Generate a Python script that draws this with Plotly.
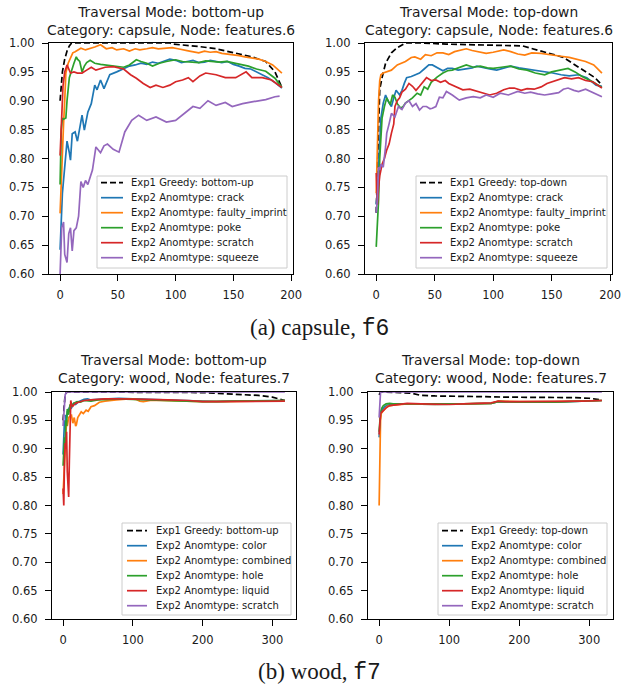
import plotly.graph_objects as go

# ---------------- data ----------------
Y_TICKS = [0.60, 0.65, 0.70, 0.75, 0.80, 0.85, 0.90, 0.95, 1.00]
X_TICKS_CAPSULE = [0, 50, 100, 150, 200]
X_TICKS_WOOD = [0, 100, 200, 300]

CAPSULE_TYPES = ["crack", "faulty_imprint", "poke", "scratch", "squeeze"]
WOOD_TYPES = ["color", "combined", "hole", "liquid", "scratch"]

# capsule, bottom-up
cap_bu_greedy_x = [0, 1, 2, 4, 6, 8, 10, 20, 40, 60, 80, 95, 98, 110, 120, 135, 150, 166, 178, 186, 192]
cap_bu_greedy_y = [0.90, 0.93, 0.95, 0.972, 0.986, 0.995, 1.0, 1.0, 1.0, 1.0, 1.0, 1.0, 0.998, 0.996, 0.994, 0.99, 0.983, 0.976, 0.968, 0.95, 0.923]
cap_bu_crack_x = [0, 1, 2, 4, 6, 8, 9, 10.5, 13, 15, 18, 19, 21, 24, 27, 30, 32, 35, 38, 43, 49, 55, 60, 65, 70, 75, 80, 85, 90, 95, 100, 105, 110, 115, 120, 125, 130, 135, 140, 145, 150, 155, 160, 165, 170, 175, 180, 185, 192]
cap_bu_crack_y = [0.642, 0.703, 0.74, 0.785, 0.83, 0.81, 0.797, 0.843, 0.846, 0.83, 0.863, 0.875, 0.849, 0.88, 0.895, 0.927, 0.919, 0.936, 0.921, 0.945, 0.95, 0.955, 0.96, 0.962, 0.965, 0.963, 0.967, 0.965, 0.968, 0.972, 0.97, 0.966, 0.968, 0.97, 0.966, 0.967, 0.97, 0.968, 0.966, 0.968, 0.963, 0.96, 0.956, 0.955, 0.95, 0.945, 0.94, 0.933, 0.922]
cap_bu_faulty_x = [0, 1, 2, 3, 4, 5, 7, 9, 11, 13, 15, 18, 22, 26, 30, 35, 40, 45, 49, 55, 60, 65, 69, 75, 80, 85, 92, 97, 102, 106, 112, 120, 125, 130, 135, 140, 145, 149, 155, 160, 166, 172, 178, 184, 192]
cap_bu_faulty_y = [0.705, 0.77, 0.83, 0.86, 0.9, 0.948, 0.965, 0.975, 0.983, 0.985, 0.988, 0.991, 0.988, 0.99, 0.993, 0.997, 0.99, 0.992, 0.988, 0.99, 0.986, 0.99, 0.988, 0.99, 0.992, 0.99, 0.991, 0.992, 0.99, 0.988, 0.986, 0.983, 0.986, 0.984, 0.985, 0.982, 0.981, 0.98, 0.978, 0.976, 0.974, 0.972, 0.968, 0.962, 0.948]
cap_bu_poke_x = [0, 1, 2, 3, 5, 6, 8, 10, 12, 14, 15, 17, 19, 21, 23, 26, 30, 35, 40, 45, 50, 55, 60, 66, 70, 75, 80, 86, 92, 100, 106, 112, 120, 126, 132, 138, 144, 150, 156, 163, 170, 178, 186, 192]
cap_bu_poke_y = [0.755, 0.85, 0.87, 0.868, 0.87, 0.9, 0.94, 0.955, 0.965, 0.976, 0.972, 0.968, 0.95, 0.96, 0.966, 0.97, 0.965, 0.963, 0.962, 0.96, 0.96, 0.958, 0.962, 0.971, 0.968, 0.965, 0.96, 0.965, 0.968, 0.971, 0.968, 0.967, 0.966, 0.969, 0.968, 0.967, 0.968, 0.965, 0.963, 0.96, 0.955, 0.951, 0.939, 0.923]
cap_bu_scratch_x = [0, 1, 2.5, 4, 6, 9, 12, 15, 19, 23, 27, 31, 35, 39, 46, 51, 55, 61, 66, 72, 78, 83, 89, 95, 100, 106, 111, 115, 121, 126, 135, 143, 152, 161, 166, 175, 183, 192]
cap_bu_scratch_y = [0.805, 0.87, 0.925, 0.95, 0.962, 0.948, 0.95, 0.948, 0.948, 0.953, 0.958, 0.953, 0.956, 0.958, 0.959, 0.957, 0.955, 0.945, 0.939, 0.93, 0.923, 0.927, 0.923, 0.927, 0.933, 0.936, 0.94, 0.933, 0.943, 0.948, 0.945, 0.94, 0.94, 0.95, 0.94, 0.94, 0.936, 0.923]
cap_bu_squeeze_x = [0, 1.4, 3, 4, 6, 7.5, 9, 10.5, 12, 14, 16, 18, 20, 22, 24, 26, 28, 31, 35, 38, 41, 46, 51, 56, 62, 68, 75, 83, 92, 100, 109, 115, 121, 128, 135, 143, 149, 158, 166, 178, 186, 190]
cap_bu_squeeze_y = [0.60, 0.68, 0.69, 0.634, 0.62, 0.67, 0.68, 0.64, 0.675, 0.68, 0.70, 0.76, 0.75, 0.762, 0.755, 0.77, 0.78, 0.82, 0.81, 0.822, 0.825, 0.816, 0.811, 0.846, 0.866, 0.875, 0.866, 0.872, 0.863, 0.866, 0.88, 0.89, 0.887, 0.90, 0.892, 0.897, 0.89, 0.895, 0.898, 0.902, 0.907, 0.908]

# capsule, top-down
cap_td_greedy_x = [0, 1, 2, 3, 5, 8, 13, 18, 25, 40, 60, 80, 100, 115, 125, 132, 140, 150, 160, 170, 180, 187, 193]
cap_td_greedy_y = [0.706, 0.775, 0.86, 0.92, 0.94, 0.965, 0.983, 0.992, 1.0, 1.0, 0.998, 0.997, 0.996, 0.995, 0.995, 0.991, 0.987, 0.981, 0.975, 0.962, 0.95, 0.94, 0.927]
cap_td_crack_x = [0, 1, 2, 4, 6, 8, 10, 13, 15, 17, 20, 22, 24, 26, 30, 34, 37, 41, 45, 48, 52, 57, 61, 65, 70, 77, 82, 86, 92, 97, 103, 109, 115, 122, 129, 136, 144, 151, 158, 165, 173, 180, 188, 193]
cap_td_crack_y = [0.72, 0.74, 0.785, 0.87, 0.896, 0.91, 0.9, 0.89, 0.905, 0.918, 0.91, 0.918, 0.93, 0.94, 0.942, 0.945, 0.948, 0.955, 0.962, 0.962, 0.958, 0.952, 0.956, 0.956, 0.953, 0.955, 0.957, 0.96, 0.957, 0.955, 0.953, 0.957, 0.96, 0.957, 0.955, 0.952, 0.951, 0.948, 0.945, 0.943, 0.945, 0.94, 0.927, 0.925]
cap_td_faulty_x = [0, 1, 2, 3, 4, 6, 9, 13, 18, 25, 30, 33, 38, 42, 47, 52, 57, 62, 67, 72, 77, 82, 88, 94, 100, 105, 109, 115, 121, 127, 133, 141, 150, 158, 165, 172, 179, 186, 193]
cap_td_faulty_y = [0.74, 0.85, 0.9, 0.935, 0.945, 0.948, 0.95, 0.953, 0.962, 0.968, 0.975, 0.976, 0.972, 0.98, 0.978, 0.983, 0.983, 0.98, 0.985, 0.987, 0.99, 0.987, 0.985, 0.982, 0.984, 0.986, 0.988, 0.985, 0.981, 0.979, 0.983, 0.982, 0.98, 0.977, 0.975, 0.972, 0.968, 0.962, 0.948]
cap_td_poke_x = [0, 1, 2, 3, 4, 5, 7, 9, 12, 14, 16, 18, 21, 23, 25, 28, 31, 35, 38, 41, 44, 47, 52, 57, 61, 65, 70, 77, 83, 89, 95, 100, 107, 115, 122, 129, 136, 144, 150, 156, 164, 170, 176, 185, 193]
cap_td_poke_y = [0.647, 0.69, 0.728, 0.8, 0.844, 0.87, 0.89, 0.905, 0.893, 0.91, 0.906, 0.895, 0.887, 0.89, 0.896, 0.9, 0.905, 0.913, 0.91, 0.924, 0.92, 0.932, 0.941, 0.948, 0.952, 0.953, 0.957, 0.962, 0.958, 0.96, 0.957, 0.956, 0.958, 0.96, 0.955, 0.953, 0.948, 0.945, 0.95, 0.953, 0.956, 0.95, 0.942, 0.933, 0.923]
cap_td_scratch_x = [0, 1, 2, 3, 5, 7, 9, 11, 13, 15, 16, 18, 20, 22, 25, 28, 31, 34, 37, 39, 43, 47, 51, 55, 59, 62, 68, 74, 80, 86, 92, 97, 103, 109, 114, 118, 124, 129, 135, 141, 146, 150, 156, 161, 167, 173, 179, 185, 193]
cap_td_scratch_y = [0.775, 0.72, 0.75, 0.77, 0.79, 0.8, 0.815, 0.825, 0.844, 0.86, 0.89, 0.9, 0.905, 0.915, 0.92, 0.93, 0.925, 0.918, 0.925, 0.93, 0.94, 0.935, 0.936, 0.932, 0.935, 0.93, 0.925, 0.919, 0.92, 0.916, 0.913, 0.91, 0.913, 0.919, 0.922, 0.922, 0.918, 0.921, 0.92, 0.924, 0.93, 0.933, 0.937, 0.94, 0.938, 0.94, 0.935, 0.933, 0.922]
cap_td_squeeze_x = [0, 1, 2, 3, 4, 6, 8, 9, 11, 13, 16, 19, 22, 25, 28, 31, 34, 37, 40, 43, 46, 48, 51, 54, 57, 60, 65, 71, 77, 83, 89, 94, 100, 106, 113, 121, 127, 132, 138, 144, 150, 156, 160, 164, 169, 173, 179, 185, 190, 193]
cap_td_squeeze_y = [0.706, 0.73, 0.785, 0.78, 0.79, 0.785, 0.82, 0.844, 0.86, 0.878, 0.872, 0.89, 0.885, 0.896, 0.9, 0.89, 0.895, 0.884, 0.89, 0.89, 0.886, 0.887, 0.89, 0.906, 0.905, 0.916, 0.91, 0.901, 0.905, 0.907, 0.905, 0.91, 0.906, 0.913, 0.91, 0.916, 0.913, 0.915, 0.912, 0.91, 0.912, 0.914, 0.92, 0.922, 0.918, 0.916, 0.92, 0.915, 0.91, 0.907]

# wood, bottom-up
wood_bu_greedy_x = [0, 1, 2, 3, 6, 50, 100, 150, 200, 230, 260, 280, 300, 310, 318]
wood_bu_greedy_y = [0.95, 0.97, 0.985, 0.997, 1.0, 1.0, 1.0, 1.0, 0.999, 0.997, 0.995, 0.994, 0.991, 0.988, 0.985]
wood_bu_color_x = [0, 1, 2, 3, 4, 5, 6, 8, 10, 12, 15, 18, 22, 26, 30, 35, 40, 50, 60, 70, 80, 100, 120, 140, 160, 180, 200, 220, 240, 260, 280, 300, 318]
wood_bu_color_y = [0.89, 0.93, 0.95, 0.94, 0.96, 0.955, 0.965, 0.97, 0.975, 0.972, 0.98, 0.978, 0.983, 0.985, 0.987, 0.988, 0.986, 0.987, 0.988, 0.988, 0.989, 0.988, 0.987, 0.986, 0.985, 0.984, 0.983, 0.983, 0.984, 0.984, 0.984, 0.985, 0.985]
wood_bu_combined_x = [0, 1, 2, 3, 4, 5, 6, 7, 8, 10, 12, 14, 16, 18, 19, 21, 23, 26, 29, 33, 36, 40, 45, 52, 60, 70, 76, 85, 95, 105, 110, 115, 125, 140, 160, 180, 200, 230, 260, 290, 318]
wood_bu_combined_y = [0.82, 0.85, 0.866, 0.9, 0.93, 0.95, 0.94, 0.95, 0.955, 0.958, 0.959, 0.945, 0.955, 0.94, 0.942, 0.955, 0.96, 0.965, 0.962, 0.968, 0.966, 0.974, 0.976, 0.982, 0.984, 0.986, 0.986, 0.987, 0.988, 0.987, 0.984, 0.983, 0.985, 0.985, 0.984, 0.983, 0.983, 0.983, 0.984, 0.984, 0.985]
wood_bu_hole_x = [0, 1, 2, 3, 4, 5, 6, 8, 10, 12, 15, 20, 25, 30, 40, 50, 60, 80, 100, 130, 160, 200, 250, 318]
wood_bu_hole_y = [0.87, 0.89, 0.92, 0.91, 0.95, 0.94, 0.97, 0.96, 0.978, 0.975, 0.98, 0.983, 0.982, 0.985, 0.984, 0.986, 0.987, 0.988, 0.987, 0.986, 0.985, 0.983, 0.984, 0.985]
wood_bu_liquid_x = [0, 1, 2, 3, 4, 5, 6, 7, 8, 9, 10, 11, 12, 13, 14, 16, 18, 22, 26, 30, 40, 50, 60, 80, 100, 120, 150, 180, 200, 240, 280, 318]
wood_bu_liquid_y = [0.83, 0.80, 0.88, 0.91, 0.90, 0.93, 0.86, 0.82, 0.815, 0.88, 0.95, 0.985, 0.978, 0.975, 0.975, 0.978, 0.98, 0.982, 0.984, 0.985, 0.986, 0.987, 0.988, 0.988, 0.988, 0.987, 0.986, 0.985, 0.983, 0.983, 0.984, 0.984]
wood_bu_scratch_x = [0, 1, 2, 3, 5, 10, 50, 100, 200, 318]
wood_bu_scratch_y = [0.94, 0.96, 0.98, 0.995, 1.0, 1.0, 1.0, 1.0, 1.0, 1.0]

# wood, top-down
wood_td_greedy_x = [0, 2, 5, 10, 30, 45, 55, 60, 80, 100, 140, 180, 220, 240, 260, 280, 300, 313, 318]
wood_td_greedy_y = [0.995, 1.0, 1.0, 1.0, 0.999, 0.998, 0.996, 0.994, 0.993, 0.993, 0.992, 0.991, 0.991, 0.991, 0.99, 0.99, 0.989, 0.986, 0.986]
wood_td_color_x = [0, 1, 2, 3, 5, 8, 12, 20, 40, 80, 120, 160, 170, 200, 250, 318]
wood_td_color_y = [0.92, 0.95, 0.96, 0.965, 0.97, 0.974, 0.977, 0.978, 0.979, 0.978, 0.979, 0.98, 0.983, 0.982, 0.982, 0.985]
wood_td_combined_x = [0, 1, 2, 3, 5, 8, 12, 20, 40, 80, 120, 160, 170, 200, 250, 318]
wood_td_combined_y = [0.80, 0.90, 0.95, 0.962, 0.966, 0.97, 0.975, 0.977, 0.979, 0.978, 0.979, 0.98, 0.984, 0.983, 0.983, 0.985]
wood_td_hole_x = [0, 1, 2, 4, 6, 10, 15, 20, 40, 80, 120, 160, 170, 200, 250, 318]
wood_td_hole_y = [0.93, 0.955, 0.965, 0.972, 0.976, 0.979, 0.98, 0.979, 0.979, 0.978, 0.979, 0.98, 0.983, 0.982, 0.982, 0.985]
wood_td_liquid_x = [0, 1, 2, 4, 6, 10, 15, 20, 30, 40, 60, 80, 100, 120, 140, 160, 170, 180, 200, 230, 260, 290, 318]
wood_td_liquid_y = [0.925, 0.955, 0.962, 0.965, 0.968, 0.972, 0.976, 0.977, 0.979, 0.98, 0.979, 0.978, 0.978, 0.979, 0.98, 0.981, 0.984, 0.983, 0.983, 0.983, 0.983, 0.984, 0.985]
wood_td_scratch_x = [0, 1, 2, 4, 10, 100, 200, 318]
wood_td_scratch_y = [0.955, 0.975, 1.0, 1.0, 1.0, 1.0, 1.0, 1.0]

# ---------------- styling ----------------
W, H = 623, 691
FONT = "DejaVu Sans"
TXT = "#1a1a1a"
COLORS = ["#1f77b4", "#ff7f0e", "#2ca02c", "#d62728", "#9467bd"]
LW = 1.7


def px(x):
    return x / W


def py(y):
    return 1 - y / H


panels = [
    dict(ax="", mode="bottom-up", cat="capsule", node="features.6",
         dom=(49, 293, 43, 274), xr=[-9.6, 201.6], xt=X_TICKS_CAPSULE,
         greedy=(cap_bu_greedy_x, cap_bu_greedy_y), types=CAPSULE_TYPES,
         series=[(cap_bu_crack_x, cap_bu_crack_y), (cap_bu_faulty_x, cap_bu_faulty_y),
                 (cap_bu_poke_x, cap_bu_poke_y), (cap_bu_scratch_x, cap_bu_scratch_y),
                 (cap_bu_squeeze_x, cap_bu_squeeze_y)],
         leg=(97, 287, 176, 268, 101, 123, 129, 182.7), title_y=20.5),
    dict(ax="2", mode="top-down", cat="capsule", node="features.6",
         dom=(365, 612, 43, 274), xr=[-9.6, 201.6], xt=X_TICKS_CAPSULE,
         greedy=(cap_td_greedy_x, cap_td_greedy_y), types=CAPSULE_TYPES,
         series=[(cap_td_crack_x, cap_td_crack_y), (cap_td_faulty_x, cap_td_faulty_y),
                 (cap_td_poke_x, cap_td_poke_y), (cap_td_scratch_x, cap_td_scratch_y),
                 (cap_td_squeeze_x, cap_td_squeeze_y)],
         leg=(416, 607, 176, 268, 420, 442, 448, 182.7), title_y=20.5),
    dict(ax="3", mode="bottom-up", cat="wood", node="features.7",
         dom=(52, 296, 392, 619), xr=[-15.9, 333.9], xt=X_TICKS_WOOD,
         greedy=(wood_bu_greedy_x, wood_bu_greedy_y), types=WOOD_TYPES,
         series=[(wood_bu_color_x, wood_bu_color_y), (wood_bu_combined_x, wood_bu_combined_y),
                 (wood_bu_hole_x, wood_bu_hole_y), (wood_bu_liquid_x, wood_bu_liquid_y),
                 (wood_bu_scratch_x, wood_bu_scratch_y)],
         leg=(122, 291, 523, 615, 127, 147, 154, 530.7), title_y=368.5),
    dict(ax="4", mode="top-down", cat="wood", node="features.7",
         dom=(368, 613, 392, 619), xr=[-15.9, 333.9], xt=X_TICKS_WOOD,
         greedy=(wood_td_greedy_x, wood_td_greedy_y), types=WOOD_TYPES,
         series=[(wood_td_color_x, wood_td_color_y), (wood_td_combined_x, wood_td_combined_y),
                 (wood_td_hole_x, wood_td_hole_y), (wood_td_liquid_x, wood_td_liquid_y),
                 (wood_td_scratch_x, wood_td_scratch_y)],
         leg=(438, 607, 523, 615, 442, 463, 469, 530.7), title_y=368.5),
]

fig = go.Figure()
layout = dict(template="none", width=W, height=H, autosize=False,
              margin=dict(l=0, r=0, t=0, b=0, pad=0, autoexpand=False),
              paper_bgcolor="white", plot_bgcolor="white", showlegend=False,
              font=dict(family=FONT, color=TXT))
shapes, annotations = [], []

for p in panels:
    a = p["ax"]
    xa, ya = "x" + a, "y" + a
    gx, gy = p["greedy"]
    fig.add_trace(go.Scatter(x=gx, y=gy, mode="lines", xaxis=xa, yaxis=ya,
                             name="Exp1 Greedy: " + p["mode"],
                             line=dict(color="black", width=LW, dash="6px,3px")))
    for (sx, sy), t, c in zip(p["series"], p["types"], COLORS):
        fig.add_trace(go.Scatter(x=sx, y=sy, mode="lines", xaxis=xa, yaxis=ya,
                                 name="Exp2 Anomtype: " + t,
                                 line=dict(color=c, width=LW)))
    l, r, t_, b = p["dom"]
    axis_common = dict(showgrid=False, zeroline=False, showline=True, mirror=True,
                       automargin=False,
                       linecolor="black", linewidth=1.2, ticks="outside", ticklen=6,
                       tickwidth=1.1, tickcolor="black", layer="above traces",
                       tickfont=dict(family=FONT, size=11.5, color=TXT))
    layout["xaxis" + a] = dict(axis_common, domain=[px(l), px(r)], anchor=ya,
                               range=p["xr"], tickvals=p["xt"], ticklabelstandoff=4,
                               ticktext=[str(v) for v in p["xt"]])
    layout["yaxis" + a] = dict(axis_common, domain=[py(b), py(t_)], anchor=xa,
                               range=[0.6, 1.0], tickvals=Y_TICKS, ticklabelstandoff=5,
                               ticktext=["%.2f" % v for v in Y_TICKS])
    cx = (l + r) / 2
    annotations.append(dict(text="Traversal Mode: %s<br>Category: %s, Node: %s"
                                 % (p["mode"], p["cat"], p["node"]),
                            xref="paper", yref="paper", x=px(cx), y=py(p["title_y"]),
                            xanchor="center", yanchor="middle", align="center",
                            showarrow=False, font=dict(family=FONT, size=13.8, color=TXT)))
    # legend box
    bl, br, bt, bb, s0, s1, tx, r0 = p["leg"]
    shapes.append(dict(type="rect", xref="paper", yref="paper", x0=px(bl), x1=px(br),
                       y0=py(bb), y1=py(bt), fillcolor="rgba(255,255,255,0.8)",
                       line=dict(color="#cccccc", width=1)))
    labels = ["Exp1 Greedy: " + p["mode"]] + ["Exp2 Anomtype: " + t for t in p["types"]]
    cols = ["black"] + COLORS
    for i, (lab, c) in enumerate(zip(labels, cols)):
        yy = r0 + 15 * i
        shapes.append(dict(type="line", xref="paper", yref="paper", x0=px(s0), x1=px(s1),
                           y0=py(yy), y1=py(yy),
                           line=dict(color=c, width=LW, dash="6px,3px" if i == 0 else "solid")))
        annotations.append(dict(text=lab, xref="paper", yref="paper", x=px(tx), y=py(yy),
                                xanchor="left", yanchor="middle", showarrow=False,
                                font=dict(family=FONT, size=10, color=TXT)))

CAP_FONT = "Liberation Serif"
MONO = "Liberation Mono"
annotations.append(dict(text="(a) capsule, <span style=\"font-family:'%s'\">f6</span>" % MONO,
                        xref="paper", yref="paper", x=px(319), y=py(328), xanchor="center",
                        yanchor="middle", showarrow=False,
                        font=dict(family=CAP_FONT, size=23, color=TXT)))
annotations.append(dict(text="(b) wood, <span style=\"font-family:'%s'\">f7</span>" % MONO,
                        xref="paper", yref="paper", x=px(319), y=py(672), xanchor="center",
                        yanchor="middle", showarrow=False,
                        font=dict(family=CAP_FONT, size=23, color=TXT)))

layout["shapes"] = shapes
layout["annotations"] = annotations
fig.update_layout(**layout)
fig.write_html("out.html", config={"displayModeBar": False},
               post_script="document.body.style.margin='0px';document.body.style.overflow='hidden';")
